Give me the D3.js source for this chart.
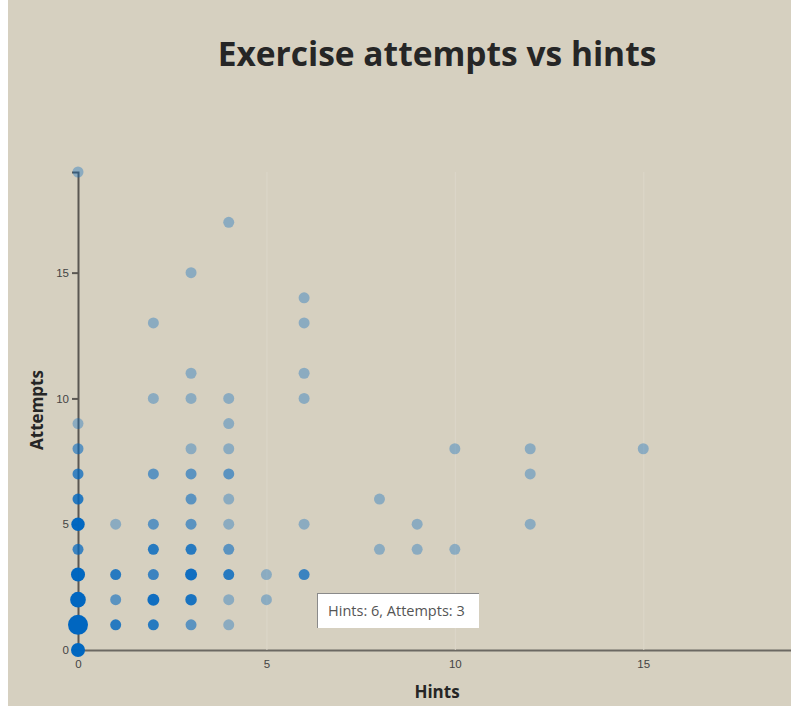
<!DOCTYPE html>
<html>
<head>
<meta charset="utf-8">
<script src="https://cdn.jsdelivr.net/npm/d3@7"></script>
<style>
    html, body { margin: 0; padding: 0; background: #ffffff; overflow: hidden; }
    #chart-area {
        position: absolute; left: 8px; top: 0; width: 783px; height: 706px;
        background: #d6d0c0;
    }
    .title {
        font-family: "Open Sans", sans-serif; font-weight: 700; font-size: 33.5px; fill: #262626;
    }
    .axis-label { font-family: "Open Sans", sans-serif; font-weight: 700; font-size: 17px; fill: #262626; }
    .axis text { font-family: "Liberation Sans", Arial, sans-serif; font-size: 11.5px; fill: #444; }
    .y-axis path, .y-axis line { stroke: #5a5752; stroke-width: 2px; }
    .x-axis path { stroke: #6b6862; stroke-width: 2px; }
    .x-axis line { stroke: #dcd7c9; stroke-width: 1px; }
    .tooltip {
        position: absolute; background: #fff; padding: 7px 14px 8px 10px;
        border-top: 1px solid #8a8a8a; border-left: 1px solid #8a8a8a;
        font-family: "Open Sans", sans-serif; font-size: 14.5px; color: #555; white-space: nowrap;
    }
</style>
</head>
<body>
<div id="chart-area"></div>
<script>
// hints, attempts and how many attempts share that pair
const hints    = [0,0,0,0,0,0,0,0,0,0,0, 1,1,1,1, 2,2,2,2,2,2,2,2, 3,3,3,3,3,3,3,3,3,3,3,
                  4,4,4,4,4,4,4,4,4,4,4, 5,5, 6,6,6,6,6,6, 8,8, 9,9, 10,10, 12,12,12, 15];
const attempts = [0,1,2,3,4,5,6,7,8,9,19, 1,2,3,5, 1,2,3,4,5,7,10,13, 1,2,3,4,5,6,7,8,10,11,15,
                  1,2,3,4,5,6,7,8,9,10,17, 2,3, 3,5,10,11,13,14, 4,6, 4,5, 4,8, 5,7,8, 8];
const counts   = [12,40,18,12,3,10,4,3,2,1,1, 4,2,4,1, 4,6,3,4,2,2,1,1, 2,5,6,4,2,2,2,1,1,1,1,
                  1,1,4,2,1,1,2,1,1,1,1, 1,1, 3,1,1,1,1,1, 1,1, 1,1, 1,1, 1,1,1, 1];
const xTicks = [0, 5, 10, 15];
const yTicks = [0, 5, 10, 15];
const hovered = {hints: 6, attempts: 3};

class ScatterPlot {
    constructor(parentElement) {
        this.parentElement = parentElement;
        this.initVis();
    }

    initVis() {
        let vis = this;

        vis.margin = {top: 172, right: 0, bottom: 56, left: 70};
        vis.width = 716;
        vis.height = 478;

        vis.root = d3.select("#" + vis.parentElement).append("svg")
            .attr("width", 783)
            .attr("height", 706);

        vis.root.append("text")
            .attr("class", "title")
            .attr("x", 429)
            .attr("y", 66)
            .attr("text-anchor", "middle")
            .text("Exercise attempts vs hints");

        vis.svg = vis.root.append("g")
            .attr("transform", `translate(${vis.margin.left}, ${vis.margin.top})`);

        vis.x = d3.scaleLinear().domain([0, 19]).range([0, vis.width]);
        vis.y = d3.scaleLinear().domain([0, 19]).range([vis.height, 0]);
        vis.r = d3.scaleSqrt().domain([4, 40]).range([5.5, 10]).clamp(true);

        vis.xAxis = d3.axisBottom(vis.x).tickValues(xTicks)
            .tickSize(-vis.height).tickSizeOuter(0).tickPadding(10);
        vis.yAxis = d3.axisLeft(vis.y).tickValues(yTicks).tickSize(6);

        vis.svg.append("g")
            .attr("class", "x-axis axis")
            .attr("transform", `translate(0, ${vis.height})`)
            .call(vis.xAxis);
        vis.svg.append("g")
            .attr("class", "y-axis axis")
            .call(vis.yAxis);

        // x label
        vis.svg.append("text")
            .attr("class", "axis-label")
            .attr("x", 359)
            .attr("y", vis.height + 48)
            .attr("text-anchor", "middle")
            .text("Hints");

        // y label
        vis.svg.append("text")
            .attr("class", "axis-label")
            .attr("transform", `translate(-35, 238) rotate(-90)`)
            .attr("text-anchor", "middle")
            .text("Attempts");

        vis.tooltip = d3.select("#" + vis.parentElement).append("div")
            .attr("class", "tooltip");

        vis.wrangleData();
    }

    wrangleData() {
        let vis = this;
        vis.displayData = hints.map((h, i) => ({hints: h, attempts: attempts[i], count: counts[i]}));
        vis.updateVis();
    }

    updateVis() {
        let vis = this;

        vis.svg.selectAll(".dot")
            .data(vis.displayData)
            .enter()
            .append("circle")
            .attr("class", "dot")
            .attr("cx", d => vis.x(d.hints))
            .attr("cy", d => vis.y(d.attempts))
            .attr("r", d => vis.r(d.count))
            .attr("fill", "#0066c0")
            .attr("fill-opacity", d => 1 - Math.pow(0.65, d.count));

        // tooltip shown for the hovered point
        let hx = vis.x(hovered.hints) + vis.margin.left;
        let hy = vis.y(hovered.attempts) + vis.margin.top;
        vis.tooltip
            .style("left", (hx + 13) + "px")
            .style("top", (hy + 18) + "px")
            .text(`Hints: ${hovered.hints}, Attempts: ${hovered.attempts}`);
    }
}

new ScatterPlot("chart-area");
</script>
</body>
</html>
